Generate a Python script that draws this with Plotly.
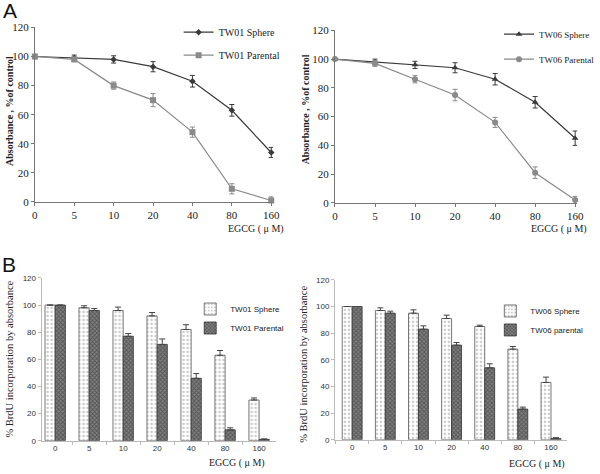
import plotly.graph_objects as go

doses = ["0", "5", "10", "20", "40", "80", "160"]

a1_sphere = [100, 99, 98, 93, 83, 63, 34]
a1_sphere_err = [1.5, 2, 2.5, 3.5, 4, 4, 3.5]
a1_par = [100, 98, 80, 70, 48, 9, 1]
a1_par_err = [1, 1.5, 2.5, 4.5, 3.5, 3.5, 2.5]

a2_sphere = [100, 98, 96, 94, 86, 70, 45]
a2_sphere_err = [0.5, 2, 2.5, 3.5, 4, 4, 5]
a2_par = [100, 97, 86, 75, 56, 21, 2]
a2_par_err = [0.5, 2, 2.5, 4, 3.5, 4, 2.5]

b1_sphere = [100, 98, 96, 92, 82, 63, 30]
b1_sphere_err = [0, 1.5, 2.5, 2.5, 3.5, 3.5, 1.5]
b1_par = [100, 96, 77, 71, 46, 8, 1]
b1_par_err = [0, 1.5, 2, 4, 3.5, 1.5, 0.3]

b2_sphere = [100, 97, 95, 91, 85, 68, 43]
b2_sphere_err = [0, 2, 2.5, 2.5, 1, 2, 4]
b2_par = [100, 95, 83, 71, 54, 23, 1]
b2_par_err = [0, 1.5, 2.5, 2, 3, 1.5, 0.5]

W, H = 600, 474
def fx(p): return p / W
def fy(p): return 1 - p / H

SERIF = "Liberation Serif"
SANS = "Liberation Sans"
DARK = "#3a3a3a"
GRAY = "#8a8a8a"

fig = go.Figure()

def line_trace(y, err, name, color, symbol, size, xa, ya, leg):
    return go.Scatter(
        x=doses, y=y, name=name, mode="lines+markers",
        line=dict(color=color, width=1.2),
        marker=dict(symbol=symbol, size=size, color=color),
        error_y=dict(type="data", array=err, color=color, thickness=1, width=2.5),
        xaxis=xa, yaxis=ya, legend=leg, legendgroup=name, cliponaxis=False)

fig.add_trace(line_trace(a1_sphere, a1_sphere_err, "TW01 Sphere", DARK, "diamond", 5, "x", "y", "legend"))
fig.add_trace(line_trace(a1_par, a1_par_err, "TW01 Parental", GRAY, "square", 6, "x", "y", "legend"))
fig.add_trace(line_trace(a2_sphere, a2_sphere_err, "TW06 Sphere", DARK, "triangle-up", 6, "x2", "y2", "legend2"))
fig.add_trace(line_trace(a2_par, a2_par_err, "TW06 Parental", GRAY, "circle", 6, "x2", "y2", "legend2"))

def bar_trace(y, err, name, kind, offset, xa, ya, leg):
    if kind == "sphere":
        marker = dict(color="white", line=dict(color="#555", width=0.8),
                      pattern=dict(shape=".", fgcolor="#9a9a9a", bgcolor="white", size=4, solidity=0.35))
    else:
        marker = dict(color="#666", line=dict(color="#333", width=0.8),
                      pattern=dict(shape="x", fgcolor="#2a2a2a", bgcolor="#808080", size=3, solidity=0.5))
    return go.Bar(
        x=doses, y=y, name=name, width=0.3, offset=offset, marker=marker,
        error_y=dict(type="data", symmetric=False, array=err, arrayminus=[0] * len(err),
                     color="#444", thickness=1, width=3),
        xaxis=xa, yaxis=ya, legend=leg, legendgroup=name)

fig.add_trace(bar_trace(b1_sphere, b1_sphere_err, "TW01 Sphere", "sphere", -0.3, "x3", "y3", "legend3"))
fig.add_trace(bar_trace(b1_par, b1_par_err, "TW01 Parental", "par", 0.0, "x3", "y3", "legend3"))
fig.add_trace(bar_trace(b2_sphere, b2_sphere_err, "TW06 Sphere", "sphere", -0.3, "x4", "y4", "legend4"))
fig.add_trace(bar_trace(b2_par, b2_par_err, "TW06 parental", "par", 0.0, "x4", "y4", "legend4"))

top_tick = dict(family=SERIF, size=11, color="#222")
bot_tick = dict(family=SANS, size=8, color="#333")

def xax_top(d0, d1, anchor):
    return dict(domain=[fx(d0), fx(d1)], anchor=anchor, type="category", range=[0, 6.05],
                showline=True, linecolor="#777", linewidth=1, ticks="outside", ticklen=3,
                tickcolor="#777", tickfont=top_tick, showgrid=False, zeroline=False)

def yax_top(p0, p1, anchor):
    return dict(domain=[fy(p0), fy(p1)], anchor=anchor, range=[0, 120], dtick=20,
                showline=True, linecolor="#777", linewidth=1, ticks="outside", ticklen=3,
                tickcolor="#777", tickfont=top_tick, showgrid=False, zeroline=False)

def xax_bot(d0, d1, anchor, r0, r1):
    return dict(domain=[fx(d0), fx(d1)], anchor=anchor, type="category", range=[r0, r1],
                showline=True, linecolor="#bbb", linewidth=1, ticks="outside", ticklen=3,
                tickson="boundaries", tickcolor="#bbb", tickfont=bot_tick, showgrid=False,
                zeroline=False)

def yax_bot(p0, p1, anchor):
    return dict(domain=[fy(p0), fy(p1)], anchor=anchor, range=[0, 120], dtick=20,
                showline=True, linecolor="#bbb", linewidth=1, ticks="outside", ticklen=3,
                tickcolor="#bbb", tickfont=bot_tick, showgrid=False, zeroline=False)

def legend_at(xp, yp, fam, size, gap):
    return dict(x=fx(xp), y=fy(yp), xanchor="left", yanchor="top", bgcolor="rgba(0,0,0,0)",
                font=dict(family=fam, size=size, color="#222"), itemwidth=30,
                tracegroupgap=gap, itemclick=False)

def ann(text, xp, yp, size, fam=SERIF, angle=0):
    return dict(text=text, x=fx(xp), y=fy(yp), xref="paper", yref="paper", textangle=angle,
                xanchor="center", yanchor="middle",
                showarrow=False, font=dict(family=fam, size=size, color="#222"))

annotations = [
    dict(text="A", x=fx(-2), y=fy(-9), xref="paper", yref="paper", xanchor="left", yanchor="top",
         showarrow=False, font=dict(family=SANS, size=21, color="#111")),
    dict(text="B", x=fx(-3), y=fy(251), xref="paper", yref="paper", xanchor="left", yanchor="top",
         showarrow=False, font=dict(family=SANS, size=21, color="#111")),
    ann("<b>Absorbance , %of control</b>", 7, 108, 10, angle=-90),
    ann("<b>Absorbance , %of control</b>", 313, 106, 10, angle=-90),
    ann("% BrdU incorporation by absorbance", 7, 362, 10.5, angle=-90),
    ann("% BrdU incorporation by absorbance", 312, 368, 10.5, angle=-90),
    ann("EGCG ( μ M)", 262, 229, 10),
    ann("EGCG ( μ M)", 576, 229, 10),
    ann("EGCG ( μ M)", 243, 469, 10),
    ann("EGCG ( μ M)", 553, 470, 10),
]

fig.update_layout(
    width=W, height=H, margin=dict(l=0, r=0, t=0, b=0),
    paper_bgcolor="white", plot_bgcolor="white", showlegend=True,
    xaxis=xax_top(33, 280, "y"), yaxis=yax_top(201, 22, "x"),
    xaxis2=xax_top(344, 595, "y2"), yaxis2=yax_top(202, 25, "x2"),
    xaxis3=xax_bot(40, 283, "y3", -0.4, 6.5), yaxis3=yax_bot(446, 279, "x3"),
    xaxis4=xax_bot(344, 584, "y4", -0.52, 6.47), yaxis4=yax_bot(445, 281, "x4"),
    legend=legend_at(182, 12, SERIF, 10, 4),
    legend2=legend_at(514, 14, SERIF, 9, 6),
    legend3=legend_at(194, 296, SANS, 8, 0),
    legend4=legend_at(505, 298, SANS, 8, 0),
    annotations=annotations,
)

fig.write_html("out.html", config={"displayModeBar": False},
               post_script="document.body.style.margin='0';")
